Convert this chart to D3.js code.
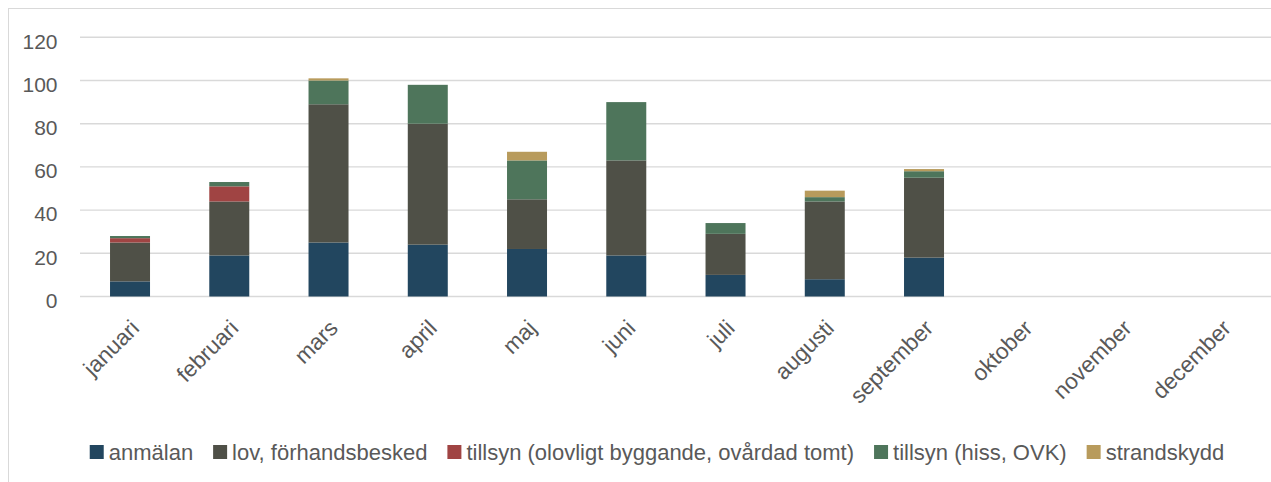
<!DOCTYPE html>
<html>
<head>
<meta charset="utf-8">
<script src="https://cdn.jsdelivr.net/npm/d3@7"></script>
<style>
  body { margin: 0; background: #fff; }
  svg { display: block; font-family: "Liberation Sans", Arial, sans-serif; }
</style>
</head>
<body>
<svg id="chart" width="1271" height="482"></svg>
<script>
var months = ['januari', 'februari', 'mars', 'april', 'maj', 'juni', 'juli',
              'augusti', 'september', 'oktober', 'november', 'december'];
var seriesNames = ['anmälan', 'lov, förhandsbesked', 'tillsyn (olovligt byggande, ovårdad tomt)',
                   'tillsyn (hiss, OVK)', 'strandskydd'];
var anmalan  = [7, 19, 25, 24, 22, 19, 10, 8, 18, 0, 0, 0];
var lov      = [18, 25, 64, 56, 23, 44, 19, 36, 37, 0, 0, 0];
var tillsynO = [2, 7, 0, 0, 0, 0, 0, 0, 0, 0, 0, 0];
var tillsynH = [1, 2, 11, 18, 18, 27, 5, 2, 3, 0, 0, 0];
var strand   = [0, 0, 1, 0, 4, 0, 0, 3, 1, 0, 0, 0];
var yTicks = [0, 20, 40, 60, 80, 100, 120];
var colors = ['#22465f', '#4f5047', '#a04443', '#4e755b', '#b89b5c'];

var svg = d3.select('#chart');
var textColor = '#595959';

// chart border (cropped on right/bottom)
svg.append('rect')
  .attr('x', 8.5).attr('y', 8.5)
  .attr('width', 1400).attr('height', 600)
  .attr('fill', 'none')
  .attr('stroke', '#d9d9d9');

var rows = months.map(function(m, i) {
  return { month: m, s0: anmalan[i], s1: lov[i], s2: tillsynO[i], s3: tillsynH[i], s4: strand[i] };
});
var keys = ['s0', 's1', 's2', 's3', 's4'];
var stacked = d3.stack().keys(keys)(rows);

var x = d3.scaleBand().domain(months).range([80.4, 80.4 + 12 * 99.25]).paddingInner(0.597).paddingOuter(0.2985);
var y = d3.scaleLinear().domain([0, 120]).range([296.5, 37.3]);

// gridlines
svg.append('g').selectAll('line')
  .data(yTicks)
  .enter().append('line')
  .attr('x1', 80).attr('x2', 1271)
  .attr('y1', function(d) { return y(d); })
  .attr('y2', function(d) { return y(d); })
  .attr('stroke', '#d9d9d9')
  .attr('stroke-width', 1.4);

// y labels
svg.append('g').selectAll('text')
  .data(yTicks)
  .enter().append('text')
  .attr('x', 57.5)
  .attr('y', function(d) { return y(d) + 4; })
  .attr('dy', '0.35em')
  .attr('text-anchor', 'end')
  .attr('font-size', 21)
  .attr('fill', textColor)
  .text(function(d) { return d; });

// bars
svg.append('g').selectAll('g')
  .data(stacked)
  .enter().append('g')
  .attr('fill', function(d, i) { return colors[i]; })
  .selectAll('rect')
  .data(function(d) { return d; })
  .enter().append('rect')
  .attr('x', function(d) { return x(d.data.month); })
  .attr('width', x.bandwidth())
  .attr('y', function(d) { return y(d[1]); })
  .attr('height', function(d) { return y(d[0]) - y(d[1]); });

// month labels
svg.append('g').selectAll('text')
  .data(months)
  .enter().append('text')
  .attr('transform', function(d) {
    return 'translate(' + (x(d) + x.bandwidth() / 2 + 5) + ',' + 324 + ') rotate(-45)';
  })
  .attr('dy', '0.35em')
  .attr('text-anchor', 'end')
  .attr('font-size', 22.5)
  .attr('fill', textColor)
  .text(function(d) { return d; });

// legend
var legend = svg.append('g');
var items = legend.selectAll('g')
  .data(seriesNames)
  .enter().append('g');
items.append('rect')
  .attr('width', 14).attr('height', 14)
  .attr('y', 445)
  .attr('fill', function(d, i) { return colors[i]; });
items.append('text')
  .attr('x', 19)
  .attr('y', 452)
  .attr('dy', '0.35em')
  .attr('font-size', 22)
  .attr('fill', textColor)
  .text(function(d) { return d; });

var pos = 0, offsets = [];
items.each(function() {
  var w = d3.select(this).select('text').node().getComputedTextLength();
  offsets.push(pos);
  pos += 19 + w + 20;
});
var total = pos - 20;
var start = 657 - total / 2;
items.attr('transform', function(d, i) { return 'translate(' + (start + offsets[i]) + ',0)'; });
</script>
</body>
</html>
